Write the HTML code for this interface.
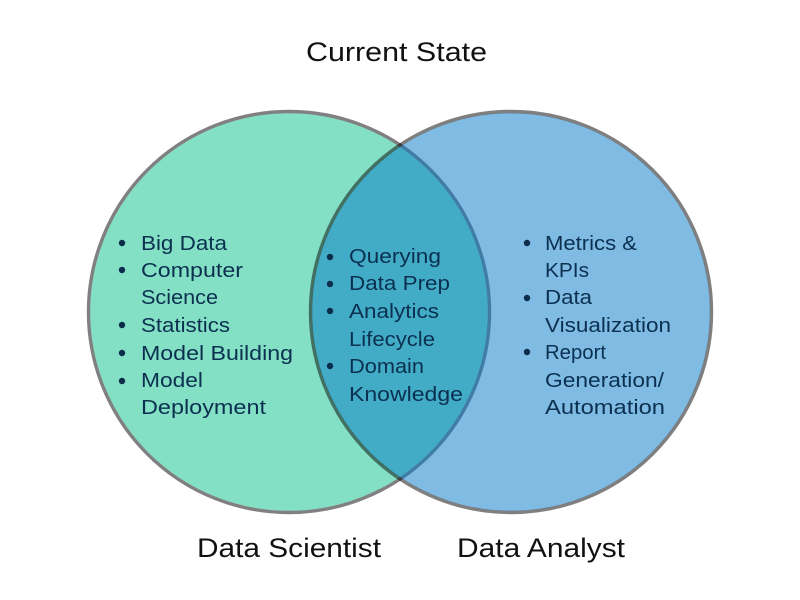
<!DOCTYPE html>
<html><head><meta charset="utf-8"><style>
html,body{margin:0;padding:0;background:#fff;width:800px;height:600px;overflow:hidden}
svg{display:block}
text{font-family:"Liberation Sans",sans-serif}
.t{font-size:20px;fill:#0b3050}
.h{fill:#111;font-size:27px}
.b{fill:#0b2c4a}
</style></head><body>
<svg width="800" height="600" viewBox="0 0 800 600" xmlns="http://www.w3.org/2000/svg">
<rect width="800" height="600" fill="#fff"/>
<circle cx="289" cy="312" r="199" fill="#84e0c4"/>
<circle cx="289" cy="312" r="200.5" fill="none" stroke="#808080" stroke-width="3.4"/>
<circle cx="511" cy="312" r="199" fill="#0078c8" fill-opacity="0.5"/>
<circle cx="511" cy="312" r="200.5" fill="none" stroke="#000" stroke-opacity="0.5" stroke-width="3.4"/>
<text class="h" x="306" y="61" textLength="181" lengthAdjust="spacingAndGlyphs">Current State</text>
<text class="h" x="197" y="557" textLength="184" lengthAdjust="spacingAndGlyphs">Data Scientist</text>
<text class="h" x="457" y="557" textLength="168" lengthAdjust="spacingAndGlyphs">Data Analyst</text>

<g class="b">
<circle cx="122" cy="243" r="3.2"/><circle cx="122" cy="270" r="3.2"/><circle cx="122" cy="325" r="3.2"/><circle cx="122" cy="353" r="3.2"/><circle cx="122" cy="381" r="3.2"/>
<circle cx="330" cy="257" r="3.2"/><circle cx="330" cy="284" r="3.2"/><circle cx="330" cy="311" r="3.2"/><circle cx="330" cy="366" r="3.2"/>
<circle cx="527" cy="243" r="3.2"/><circle cx="527" cy="298" r="3.2"/><circle cx="527" cy="352" r="3.2"/>
</g>

<g class="t">
<text x="141" y="250" textLength="86" lengthAdjust="spacingAndGlyphs">Big Data</text>
<text x="141" y="277" textLength="102" lengthAdjust="spacingAndGlyphs">Computer</text>
<text x="141" y="304" textLength="77" lengthAdjust="spacingAndGlyphs">Science</text>
<text x="141" y="332" textLength="89" lengthAdjust="spacingAndGlyphs">Statistics</text>
<text x="141" y="360" textLength="152" lengthAdjust="spacingAndGlyphs">Model Building</text>
<text x="141" y="387" textLength="62" lengthAdjust="spacingAndGlyphs">Model</text>
<text x="141" y="414" textLength="125" lengthAdjust="spacingAndGlyphs">Deployment</text>

<text x="349" y="263" textLength="92" lengthAdjust="spacingAndGlyphs">Querying</text>
<text x="349" y="290" textLength="101" lengthAdjust="spacingAndGlyphs">Data Prep</text>
<text x="349" y="318" textLength="90" lengthAdjust="spacingAndGlyphs">Analytics</text>
<text x="349" y="346" textLength="86" lengthAdjust="spacingAndGlyphs">Lifecycle</text>
<text x="349" y="373" textLength="75" lengthAdjust="spacingAndGlyphs">Domain</text>
<text x="349" y="401" textLength="114" lengthAdjust="spacingAndGlyphs">Knowledge</text>

<text x="545" y="250" textLength="92" lengthAdjust="spacingAndGlyphs">Metrics &amp;</text>
<text x="545" y="277" textLength="44" lengthAdjust="spacingAndGlyphs">KPIs</text>
<text x="545" y="304" textLength="47" lengthAdjust="spacingAndGlyphs">Data</text>
<text x="545" y="332" textLength="126" lengthAdjust="spacingAndGlyphs">Visualization</text>
<text x="545" y="359" textLength="61" lengthAdjust="spacingAndGlyphs">Report</text>
<text x="545" y="387" textLength="119" lengthAdjust="spacingAndGlyphs">Generation/</text>
<text x="545" y="414" textLength="120" lengthAdjust="spacingAndGlyphs">Automation</text>
</g>
</svg>
</body></html>
